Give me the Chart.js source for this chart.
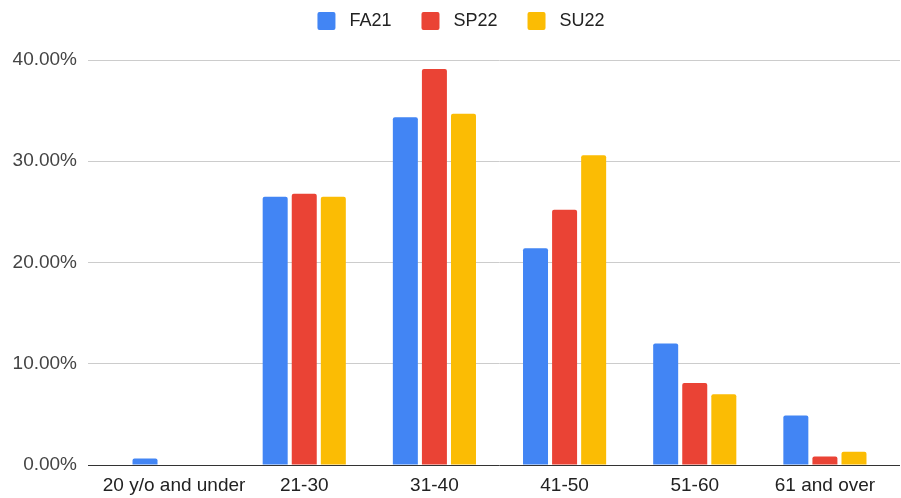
<!DOCTYPE html>
<html>
<head>
<meta charset="utf-8">
<script src="https://cdn.jsdelivr.net/npm/chart.js@4.4.1/dist/chart.umd.min.js"></script>
<style>
  html, body { margin: 0; padding: 0; background: #fff; }
  #wrap { position: relative; width: 901px; height: 498px; }
</style>
</head>
<body>
<div id="wrap"><canvas id="c" width="901" height="498"></canvas></div>
<script>
  // ── 数据 ──
  const CATEGORIES = ['20 y/o and under', '21-30', '31-40', '41-50', '51-60', '61 and over'];
  const FA21 = [0.65, 26.5, 34.35, 21.4, 12.0, 4.9];
  const SP22 = [0, 26.8, 39.1, 25.2, 8.1, 0.85];
  const SU22 = [0, 26.5, 34.7, 30.6, 7.0, 1.3];
  const Y_TICKS = [0, 10, 20, 30, 40];

  const FONT = 'Arial, "Liberation Sans", sans-serif';

  // same pixel alignment Chart.js uses for 1px lines
  const align = p => Math.round(p - 0.5) + 0.5;

  // gridlines run a little past the right edge of the plot
  const gridExtend = {
    id: 'gridExtend',
    beforeDatasetsDraw(chart) {
      const { ctx, chartArea, scales } = chart;
      ctx.save();
      ctx.lineWidth = 1;
      Y_TICKS.forEach(v => {
        const y = align(scales.y.getPixelForValue(v));
        ctx.strokeStyle = v === 0 ? '#333333' : '#cccccc';
        ctx.beginPath();
        ctx.moveTo(chartArea.right - 1, y);
        ctx.lineTo(900, y);
        ctx.stroke();
      });
      ctx.restore();
    }
  };

  // legend block height fixed so the plot starts at the right place,
  // and the legend sits a bit right of the canvas centre
  const legendPlace = {
    id: 'legendPlace',
    beforeInit(chart) {
      const fit = chart.legend.fit;
      chart.legend.fit = function () {
        fit.call(this);
        this.height = 58;
      };
    },
    afterLayout(chart) {
      chart.legend.left += 16;
      chart.legend.right += 16;
    }
  };

  const bar = (label, data, color) => ({
    label, data,
    backgroundColor: color,
    borderRadius: { topLeft: 2, topRight: 2 },
    borderSkipped: 'bottom',
    categoryPercentage: 0.67,
    barPercentage: 0.86,
  });

  new Chart(document.getElementById('c'), {
    type: 'bar',
    data: {
      labels: CATEGORIES,
      datasets: [
        bar(' FA21    ', FA21, '#4285F4'),
        bar(' SP22    ', SP22, '#EA4335'),
        bar(' SU22', SU22, '#FBBC04'),
      ],
    },
    options: {
      responsive: false,
      animation: false,
      layout: { padding: { top: 2, right: 11, left: 0, bottom: 0 } },
      plugins: {
        legend: {
          position: 'top',
          labels: {
            boxWidth: 18,
            boxHeight: 18,
            useBorderRadius: true,
            borderRadius: 2,
            padding: 10,
            color: '#222',
            font: { family: FONT, size: 18 },
          },
        },
        tooltip: { enabled: false },
      },
      scales: {
        x: {
          grid: { display: false, drawTicks: false },
          border: { display: false },
          ticks: {
            color: '#222', padding: 9, maxRotation: 0, minRotation: 0, autoSkip: false,
            font: { family: FONT, size: 19 },
          },
          afterFit(s) { s.height = 33; },
        },
        y: {
          min: 0,
          max: 40,
          afterBuildTicks(s) { s.ticks = Y_TICKS.map(v => ({ value: v })); },
          afterFit(s) { s.width = 109; },
          border: { display: false },
          grid: {
            color: c => c.tick && c.tick.value === 0 ? '#333333' : '#cccccc',
            tickColor: c => c.tick && c.tick.value === 0 ? '#333333' : '#cccccc',
            tickLength: 21,
            lineWidth: 1,
          },
          ticks: {
            color: '#444',
            padding: 11,
            font: { family: FONT, size: 19 },
            callback: v => v.toFixed(2) + '%',
          },
        },
      },
    },
    plugins: [gridExtend, legendPlace],
  });
</script>
</body>
</html>
